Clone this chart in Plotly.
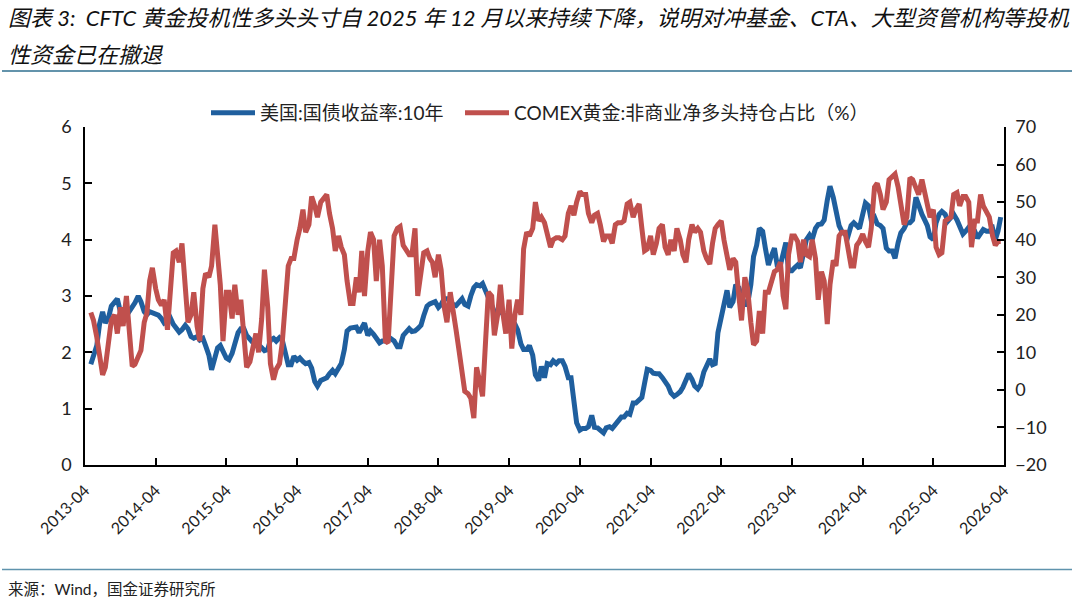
import pandas as pd
import plotly.graph_objects as go

# semi-monthly samples, one row per Apr-Mar year
us10y = [
    1.79,1.95,2.12,2.5,2.72,2.52,2.62,2.82,2.9,2.95,2.72,2.7,2.65,2.72,2.8,2.88,3.0,2.9,2.72,2.67,2.72,2.7,
    2.68,2.66,2.6,2.52,2.56,2.62,2.5,2.45,2.36,2.4,2.48,2.42,2.28,2.25,2.28,2.22,2.25,2.12,1.95,1.69,1.95,2.08,2.12,2.0,
    1.9,1.87,1.98,2.15,2.35,2.42,2.42,2.3,2.25,2.18,2.18,2.12,2.08,2.03,2.05,2.22,2.25,2.2,2.26,2.22,2.0,1.78,1.78,1.93,
    1.86,1.9,1.84,1.8,1.82,1.72,1.48,1.4,1.5,1.52,1.55,1.62,1.68,1.62,1.72,1.8,2.05,2.38,2.43,2.44,2.45,2.35,2.45,2.52,
    2.3,2.38,2.32,2.25,2.17,2.2,2.2,2.28,2.22,2.2,2.1,2.1,2.3,2.35,2.42,2.37,2.38,2.42,2.48,2.65,2.82,2.86,2.88,2.9,
    2.8,2.85,2.95,2.95,2.92,2.85,2.83,2.9,2.95,2.85,2.82,3.0,3.15,3.2,3.18,3.22,3.1,2.95,2.82,2.72,2.72,2.72,2.68,2.65,
    2.55,2.52,2.5,2.4,2.15,2.05,2.05,2.12,1.95,1.6,1.5,1.75,1.55,1.8,1.78,1.85,1.8,1.85,1.85,1.75,1.55,1.55,1.1,0.75,
    0.62,0.65,0.65,0.68,0.88,0.67,0.66,0.62,0.57,0.66,0.68,0.65,0.72,0.8,0.85,0.85,0.92,0.9,1.1,1.1,1.15,1.2,1.45,1.7,
    1.68,1.63,1.62,1.62,1.55,1.48,1.4,1.28,1.22,1.25,1.3,1.38,1.52,1.62,1.52,1.4,1.35,1.42,1.65,1.78,1.88,1.78,1.8,2.35,
    2.6,2.85,3.1,2.8,2.9,3.2,3.15,3.0,2.85,2.85,3.2,3.7,3.9,4.2,4.15,3.85,3.55,3.7,3.85,3.55,3.55,3.75,3.95,3.45,
    3.45,3.5,3.55,3.5,3.75,4.0,4.08,4.0,4.2,4.27,4.28,4.35,4.7,4.95,4.75,4.55,4.25,4.15,4.1,4.05,4.25,4.3,4.25,4.2,
    4.45,4.65,4.6,4.35,4.4,4.28,4.25,4.2,3.85,3.8,3.8,3.67,3.95,4.12,4.2,4.3,4.3,4.35,4.75,4.6,4.45,4.35,4.25,4.05,
    4.0,4.3,4.45,4.5,4.45,4.33,4.4,4.45,4.35,4.25,4.1,4.15,4.22,4.15,4.15,4.03,4.1,4.18,4.15,4.15,4.2,4.0,4.15,4.4,
]

comex_net_long = [
    20.6,18.5,14,9,4,6,13.4,18.5,20,15,22,17,25,14,6.3,6.8,8.5,10.5,18,20.5,29,32.5,
    27,24,22.5,24,16,27,36.5,37,34,39,26,18,20,26,17,13,27,31,30,33,44,34,28,13,
    26,26,19,28,20,24,14,6,7.5,11,15,10,19,32,22,7,2.7,5.5,7,12.5,22,33,35,35,
    40,43,48,42,44,51.5,49,46,50,51,52,47,43,37,41,38,36,29,23,23,30,26,37,25,
    37,42,40,29,40,33,13,12.5,28,41,43,43.5,38.5,37.5,36,36,43,25,32,36.5,37,35,34,30,
    36,32,22,18,26,22,16,11,5,-0.4,-1,-2.2,-7.5,6,2,-1.7,13.4,26,25,14.5,20,28,20,15,
    24,11,20,24,20,37.5,42,41,43,50,45,46,44.5,42,38,40,40.5,40.5,40,41,47,49,46.5,50,
    52.8,52,52,47,44.5,46.5,47,44,39.5,41,41,39,44,44.5,44.5,45,49.5,50,46,48,49.5,43,37,37.5,
    41,36,39,43,44,38,36,40,37,43,40,36,34,40,44,42,43,42,37,35,33.5,39,43,44,
    45,40,35,32,35,34,25,18.5,30,27,18,12,13,21,15,26,26,29,31.5,32,34,25,21.5,36,
    41,41,39.5,34,40,36,35.5,40,35,24,31.5,29,17.5,28,34.5,33,41,42,42,38,33,33,38.5,39.5,
    41.5,39.5,38,43,54,55,52,48,50,56,57,57.5,54,50,44,46,56.5,56,54,52,56,53,50,46,
    48,38,36,36.5,45,45.5,46,52,52.5,49,51.5,51.5,50,38,45,45,52,49,47,46,41,38.5,39.5,39.5,
]

dates = pd.date_range("2013-05-01", periods=len(us10y), freq="SMS")

BLUE = "#1f5f9e"
RED = "#c0504d"
FONT = "Lato, 'Noto Sans CJK SC', sans-serif"

fig = go.Figure()
fig.add_trace(go.Scatter(x=dates, y=us10y, mode="lines", name="美国:国债收益率:10年",
                         line=dict(color=BLUE, width=5)))
fig.add_trace(go.Scatter(x=dates, y=comex_net_long, mode="lines", yaxis="y2", legend="legend2",
                         name="COMEX黄金:非商业净多头持仓占比（%）",
                         line=dict(color=RED, width=5)))

L, R, T, B = 85, 1004, 127, 465.3


def px(x):
    return (x - L) / (R - L)


def py(y):
    return (B - y) / (B - T)


fig.update_layout(
    width=1080, height=608, autosize=False,
    margin=dict(l=L, r=1080 - R, t=T, b=608 - B, pad=0),
    paper_bgcolor="white", plot_bgcolor="white",
    font=dict(family=FONT, color="#222222", size=16),
    showlegend=True,
    legend=dict(x=px(206), xanchor="left", y=py(113), yanchor="middle",
                font=dict(size=19), itemwidth=44, bgcolor="rgba(0,0,0,0)"),
    legend2=dict(x=px(460), xanchor="left", y=py(113), yanchor="middle",
                 font=dict(size=19), itemwidth=44, bgcolor="rgba(0,0,0,0)"),
    xaxis=dict(type="date", range=["2013-04-01", "2026-04-01"], tick0="2013-04-01", dtick="M12",
               tickformat="%Y-%m", tickangle=-45, ticks="inside", ticklen=7, tickwidth=1.5,
               tickcolor="black", showline=True, linecolor="black", linewidth=1.5,
               showgrid=False, zeroline=False, tickfont=dict(size=16), ticklabelstandoff=8),
    yaxis=dict(range=[0, 6], dtick=1, ticks="inside", ticklen=7, tickwidth=1.5, tickcolor="black",
               showline=True, linecolor="black", linewidth=1.5, showgrid=False, zeroline=False,
               tickfont=dict(size=18), ticklabelstandoff=8),
    yaxis2=dict(range=[-20, 70], dtick=10, overlaying="y", side="right", ticks="inside", ticklen=7,
                tickwidth=1.5, tickcolor="black", showline=True, linecolor="black", linewidth=1.5,
                showgrid=False, zeroline=False, tickfont=dict(size=18), ticklabelstandoff=6),
)

# title, source and the two rules sit outside the plot area
fig.add_annotation(text="<i>图表 3:  CFTC 黄金投机性多头头寸自 2025 年 12 月以来持续下降，说明对冲基金、CTA、大型资管机构等投机</i>",
                   xref="paper", yref="paper", x=px(6), y=py(17), xanchor="left", yanchor="middle",
                   showarrow=False, font=dict(size=22, color="#111111"))
fig.add_annotation(text="<i>性资金已在撤退</i>",
                   xref="paper", yref="paper", x=px(6), y=py(54), xanchor="left", yanchor="middle",
                   showarrow=False, font=dict(size=22, color="#111111"))
fig.add_annotation(text="来源：Wind，国金证券研究所",
                   xref="paper", yref="paper", x=px(6), y=py(589), xanchor="left", yanchor="middle",
                   showarrow=False, font=dict(size=15.5, color="#222222"))
for rule_y, rule_color in [(71, "#2f6f8f"), (570, "#5f93ad")]:
    fig.add_shape(type="line", xref="paper", yref="paper", x0=px(2), x1=px(1072),
                  y0=py(rule_y), y1=py(rule_y), line=dict(color=rule_color, width=1.5))

# the page's default body margin would push the figure 8px down and right
fig.write_html("out.html", config={"displayModeBar": False},
               post_script="document.body.style.margin='0';")
